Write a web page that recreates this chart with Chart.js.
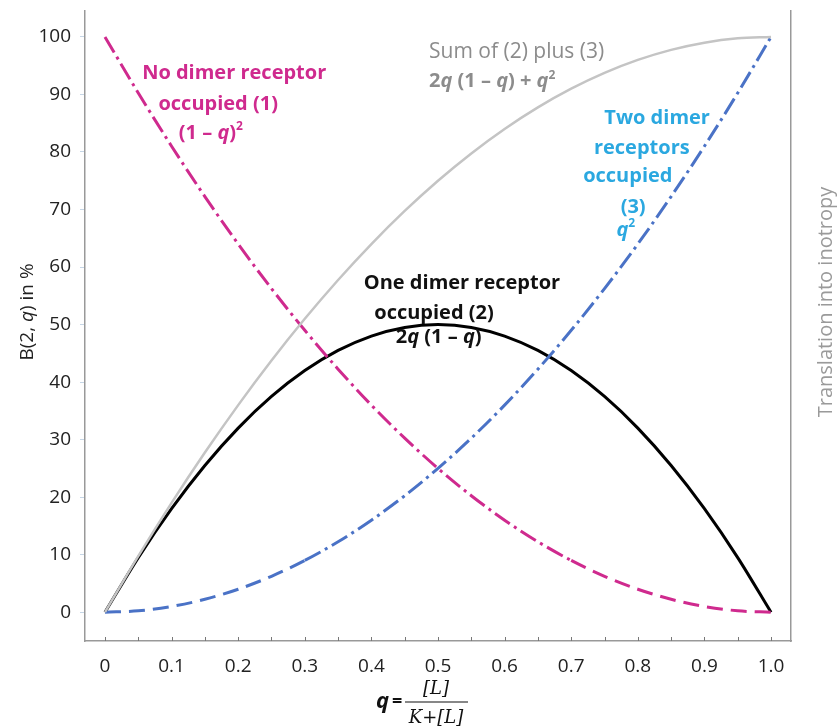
<!DOCTYPE html>
<html>
<head>
<meta charset="utf-8">
<script src="https://cdn.jsdelivr.net/npm/chart.js@4.4.0/dist/chart.umd.min.js"></script>
<style>
    html, body { margin: 0; padding: 0; background: #fff; }
    #wrap { width: 838px; height: 726px; position: relative; }
</style>
</head>
<body>
<div id="wrap"><canvas id="myChart"></canvas></div>
<script>
// values, in % at each q step
const qValues = [0, 0.05, 0.1, 0.15, 0.2, 0.25, 0.3, 0.35, 0.4, 0.45, 0.5, 0.55, 0.6, 0.65, 0.7, 0.75, 0.8, 0.85, 0.9, 0.95, 1.0];
const noDimer = [100, 90.25, 81, 72.25, 64, 56.25, 49, 42.25, 36, 30.25, 25, 20.25, 16, 12.25, 9, 6.25, 4, 2.25, 1, 0.25, 0];
const oneDimer = [0, 9.5, 18, 25.5, 32, 37.5, 42, 45.5, 48, 49.5, 50, 49.5, 48, 45.5, 42, 37.5, 32, 25.5, 18, 9.5, 0];
const twoDimer = [0, 0.25, 1, 2.25, 4, 6.25, 9, 12.25, 16, 20.25, 25, 30.25, 36, 42.25, 49, 56.25, 64, 72.25, 81, 90.25, 100];
const sumTwoThree = [0, 9.75, 19, 27.75, 36, 43.75, 51, 57.75, 64, 69.75, 75, 79.75, 84, 87.75, 91, 93.75, 96, 97.75, 99, 99.75, 100];

const xTicks = [0, 0.05, 0.1, 0.15, 0.2, 0.25, 0.3, 0.35, 0.4, 0.45, 0.5, 0.55, 0.6, 0.65, 0.7, 0.75, 0.8, 0.85, 0.9, 0.95, 1.0];
const xTickLabels = ['0', '0.1', '0.2', '0.3', '0.4', '0.5', '0.6', '0.7', '0.8', '0.9', '1.0'];
const yTicks = [0, 10, 20, 30, 40, 50, 60, 70, 80, 90, 100];

const MAGENTA = '#cf2a8e';
const BLUE = '#4a72c6';
const LIGHTBLUE = '#2ba8e0';
const GREY = '#c4c4c4';
const FONT = '"Open Sans", "Noto Sans", sans-serif';

function pts(values) {
    return qValues.map((q, i) => ({ x: q, y: values[i] }));
}

// dash-dot on the steep part, plain dashes where the curve runs flat near 0
const dashSeg = {
    borderDash: c => (c.p0.parsed.y < 12 && c.p1.parsed.y < 12) ? [16, 8] : [18, 5, 3, 5]
};

// text notes, placed in data units
const notes = [
    { x: 0.194, y: 93.6, color: MAGENTA, size: 20, weight: 'bold', runs: [['No dimer receptor']] },
    { x: 0.170, y: 88.3, color: MAGENTA, size: 20, weight: 'bold', runs: [['occupied (1)']] },
    { x: 0.159, y: 83.3, color: MAGENTA, size: 20, weight: 'bold', runs: [['(1 – '], ['q', 'i'], [')'], ['2', 's']] },
    { x: 0.4865, y: 97.4, color: '#8c8c8c', size: 21, weight: 'normal', align: 'left', runs: [['Sum of (2) plus (3)']] },
    { x: 0.4865, y: 92.2, color: '#8c8c8c', size: 20, weight: 'bold', align: 'left', runs: [['2'], ['q', 'i'], [' (1 – '], ['q', 'i'], [') + '], ['q', 'i'], ['2', 's']] },
    { x: 0.829, y: 85.9, color: LIGHTBLUE, size: 20, weight: 'bold', runs: [['Two dimer']] },
    { x: 0.806, y: 80.7, color: LIGHTBLUE, size: 20, weight: 'bold', runs: [['receptors']] },
    { x: 0.785, y: 75.7, color: LIGHTBLUE, size: 20, weight: 'bold', runs: [['occupied']] },
    { x: 0.793, y: 70.4, color: LIGHTBLUE, size: 20, weight: 'bold', runs: [['(3)']] },
    { x: 0.782, y: 66.4, color: LIGHTBLUE, size: 20, weight: 'bold', runs: [['q', 'i'], ['2', 's']] },
    { x: 0.536, y: 57.2, color: '#111', size: 20, weight: 'bold', runs: [['One dimer receptor']] },
    { x: 0.494, y: 52.0, color: '#111', size: 20, weight: 'bold', runs: [['occupied (2)']] },
    { x: 0.501, y: 47.7, color: '#111', size: 20, weight: 'bold', runs: [['2'], ['q', 'i'], [' (1 – '], ['q', 'i'], [')']] }
];

function drawRuns(ctx, runs, x, y, size, weight, color, align) {
    const fontFor = st => (st.includes('i') ? 'italic ' : '') + weight + ' ' +
        (st.includes('s') ? Math.round(size * 0.62) : size) + 'px ' + FONT;
    let total = 0;
    runs.forEach(r => { ctx.font = fontFor(r[1] || ''); total += ctx.measureText(r[0]).width; });
    let cx = align === 'left' ? x : x - total / 2;
    ctx.fillStyle = color;
    ctx.textAlign = 'left';
    ctx.textBaseline = 'middle';
    runs.forEach(r => {
        const st = r[1] || '';
        ctx.font = fontFor(st);
        ctx.fillText(r[0], cx, st.includes('s') ? y - size * 0.33 : y);
        cx += ctx.measureText(r[0]).width;
    });
}

const extras = {
    id: 'extras',
    afterDraw(chart) {
        const ctx = chart.ctx;
        const xs = chart.scales.x, ys = chart.scales.y;
        const area = chart.chartArea;
        ctx.save();

        // small x ticks pointing into the plot
        ctx.strokeStyle = '#777';
        ctx.lineWidth = 1;
        xs.ticks.forEach(t => {
            const px = Math.round(xs.getPixelForValue(t.value)) + 0.5;
            ctx.beginPath();
            ctx.moveTo(px, area.bottom);
            ctx.lineTo(px, area.bottom - 4);
            ctx.stroke();
        });

        notes.forEach(n => {
            drawRuns(ctx, n.runs, xs.getPixelForValue(n.x), ys.getPixelForValue(n.y), n.size, n.weight, n.color, n.align);
        });

        // left axis title
        ctx.save();
        ctx.translate(28, 312);
        ctx.rotate(-Math.PI / 2);
        drawRuns(ctx, [['B(2, '], ['q', 'i'], [') in %']], 0, 0, 19, 'normal', '#222');
        ctx.restore();

        // right axis title
        ctx.save();
        ctx.translate(826, 302);
        ctx.rotate(-Math.PI / 2);
        drawRuns(ctx, [['Translation into inotropy']], 0, 0, 20, 'normal', '#9a9a9a');
        ctx.restore();

        // x axis title: q = [L] / (K+[L])
        const cx = xs.getPixelForValue(0.5);
        const ty = 702;
        ctx.fillStyle = '#111';
        ctx.textBaseline = 'middle';
        ctx.textAlign = 'left';
        ctx.font = 'italic bold 22px ' + FONT;
        ctx.fillText('q', cx - 62, ty);
        ctx.font = 'bold 18px ' + FONT;
        ctx.fillText('=', cx - 46, ty);
        ctx.beginPath();
        ctx.moveTo(cx - 33, ty);
        ctx.lineTo(cx + 30, ty);
        ctx.strokeStyle = '#111';
        ctx.lineWidth = 1.2;
        ctx.stroke();
        ctx.textAlign = 'center';
        ctx.font = 'italic 18px "DejaVu Serif", serif';
        ctx.fillText('[L]', cx - 2, ty - 13);
        ctx.fillText('K+[L]', cx - 2, ty + 16);

        ctx.restore();
    }
};

const ctx = document.getElementById('myChart');

new Chart(ctx, {
    type: 'line',
    data: {
        datasets: [
            {
                label: 'Sum of (2) plus (3)',
                data: pts(sumTwoThree),
                borderColor: GREY,
                borderWidth: 2.5,
                pointRadius: 0,
                cubicInterpolationMode: 'monotone'
            },
            {
                label: 'No dimer receptor occupied (1)',
                data: pts(noDimer),
                borderColor: MAGENTA,
                borderWidth: 3,
                borderDash: [18, 5, 3, 5],
                segment: dashSeg,
                pointRadius: 0,
                cubicInterpolationMode: 'monotone'
            },
            {
                label: 'Two dimer receptors occupied (3)',
                data: pts(twoDimer),
                borderColor: BLUE,
                borderWidth: 3,
                borderDash: [18, 5, 3, 5],
                segment: dashSeg,
                pointRadius: 0,
                cubicInterpolationMode: 'monotone'
            },
            {
                label: 'One dimer receptor occupied (2)',
                data: pts(oneDimer),
                borderColor: '#000',
                borderWidth: 3,
                pointRadius: 0,
                cubicInterpolationMode: 'monotone'
            }
        ]
    },
    options: {
        responsive: true,
        maintainAspectRatio: false,
        animation: false,
        layout: { padding: { top: 11, left: 0, right: 0, bottom: 0 } },
        plugins: {
            legend: { display: false },
            tooltip: { enabled: false }
        },
        scales: {
            x: {
                type: 'linear',
                min: -0.03,
                max: 1.03,
                afterBuildTicks: s => { s.ticks = xTicks.map(v => ({ value: v })); },
                afterFit: s => { s.height = 85; s.paddingLeft = 0; s.paddingRight = 0; },
                grid: { display: false },
                border: { color: '#999', width: 1.5 },
                ticks: {
                    autoSkip: false,
                    maxRotation: 0,
                    padding: 6,
                    color: '#222',
                    font: { family: FONT, size: 19 },
                    callback: (v, i) => i % 2 === 0 ? xTickLabels[i / 2] : ''
                }
            },
            y: {
                min: -5,
                max: 104.5,
                afterBuildTicks: s => { s.ticks = yTicks.map(v => ({ value: v })); },
                afterFit: s => { s.width = 85; s.paddingTop = 0; s.paddingBottom = 0; },
                grid: { drawOnChartArea: false, tickLength: 5, color: '#c6d6e6' },
                border: { color: '#999', width: 1.5 },
                ticks: {
                    padding: 9,
                    color: '#222',
                    font: { family: FONT, size: 19 }
                }
            },
            yR: {
                position: 'right',
                display: true,
                min: -5,
                max: 104.5,
                grid: { display: false },
                ticks: { display: false },
                border: { color: '#999', width: 1.5 },
                afterFit: s => { s.width = 47; s.paddingTop = 0; s.paddingBottom = 0; }
            }
        }
    },
    plugins: [extras]
});
</script>
</body>
</html>
